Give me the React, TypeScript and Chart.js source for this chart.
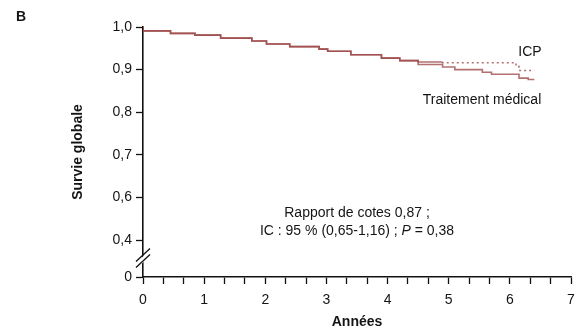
import React, { useEffect, useRef } from "react";
import { Chart, registerables } from "chart.js";

Chart.register(...registerables);

// ---- Data (Kaplan-Meier style steps) ----
const sharedTimes = [0, 0.45, 0.85, 1.27, 1.78, 2.02, 2.4, 2.88, 3.02, 3.4, 3.9, 4.2, 4.5];
const sharedSurv = [1.0, 0.991, 0.985, 0.981, 0.974, 0.967, 0.96, 0.954, 0.948, 0.943, 0.935, 0.927, 0.921];

const medicalTimes = [4.9, 5.1, 5.55, 5.7, 6.15, 6.3, 6.4];
const medicalSurv = [0.912, 0.906, 0.9, 0.894, 0.889, 0.88, 0.877];

const icpTimes = [4.9, 6.1, 6.15, 6.25, 6.4];
const icpSurv = [0.918, 0.916, 0.907, 0.898, 0.898];

// ---- Axis ticks ----
const xMajorLabels = ["0", "1", "2", "3", "4", "5", "6", "7"];
const xMinorPerYear = 3;
const yTickValues = [0.4135, 0.5, 0.6, 0.7, 0.8, 0.9, 1.0];
const yTickLabels = ["0", "0,4", "0,6", "0,7", "0,8", "0,9", "1,0"];

const FONT = '"Liberation Sans", Arial, sans-serif';
const TEXT = "#141414";
const LINE = "rgba(158,72,72,0.78)";

function toPoints(t: number[], s: number[]) {
  return t.map((x, i) => ({ x, y: s[i] }));
}

const annotations = {
  id: "annotations",
  afterDraw(chart: any) {
    const ctx = chart.ctx as CanvasRenderingContext2D;
    const y = chart.scales.y;
    const x = chart.scales.x;
    ctx.save();
    // axis break
    const ax = x.left;
    const yb = (y.getPixelForValue(0.5) + y.bottom) / 2 - 1;
    ctx.fillStyle = "#ffffff";
    ctx.beginPath();
    ctx.moveTo(ax - 7, yb + 6);
    ctx.lineTo(ax + 6, yb - 7);
    ctx.lineTo(ax + 6, yb - 1);
    ctx.lineTo(ax - 7, yb + 12);
    ctx.closePath();
    ctx.fill();
    ctx.strokeStyle = "#111";
    ctx.lineWidth = 1.3;
    ctx.beginPath();
    ctx.moveTo(ax - 7, yb + 4);
    ctx.lineTo(ax + 7, yb - 9);
    ctx.moveTo(ax - 7, yb + 10);
    ctx.lineTo(ax + 7, yb - 3);
    ctx.stroke();

    ctx.fillStyle = TEXT;
    ctx.textBaseline = "middle";
    // panel letter
    ctx.font = `bold 14px ${FONT}`;
    ctx.textAlign = "left";
    ctx.fillText("B", 16, 17);
    // axis titles
    ctx.textAlign = "center";
    ctx.fillText("Années", 357, 322);
    ctx.save();
    ctx.translate(78, 152);
    ctx.rotate(-Math.PI / 2);
    ctx.fillText("Survie globale", 0, 0);
    ctx.restore();
    // series labels
    ctx.font = `14px ${FONT}`;
    ctx.fillText("ICP", 530, 52);
    ctx.fillText("Traitement médical", 482, 100);
    // stats text
    ctx.fillText("Rapport de cotes 0,87 ;", 357, 213);
    const parts = [
      { t: "IC : 95 % (0,65-1,16) ; ", it: false },
      { t: "P", it: true },
      { t: " = 0,38", it: false },
    ];
    let total = 0;
    parts.forEach((p) => {
      ctx.font = `${p.it ? "italic " : ""}14px ${FONT}`;
      total += ctx.measureText(p.t).width;
    });
    let cx = 357 - total / 2;
    ctx.textAlign = "left";
    parts.forEach((p) => {
      ctx.font = `${p.it ? "italic " : ""}14px ${FONT}`;
      ctx.fillText(p.t, cx, 231);
      cx += ctx.measureText(p.t).width;
    });
    ctx.restore();
  },
};

export default function App() {
  const ref = useRef<HTMLCanvasElement | null>(null);
  useEffect(() => {
    if (!ref.current) return;
    const lastShared = sharedTimes.length - 1;
    const medical = toPoints(sharedTimes, sharedSurv).concat(toPoints(medicalTimes, medicalSurv));
    const icp = toPoints(sharedTimes, sharedSurv).concat(toPoints(icpTimes, icpSurv));
    const xTicks: { value: number }[] = [];
    for (let i = 0; i <= (xMajorLabels.length - 1) * xMinorPerYear; i++) xTicks.push({ value: i / xMinorPerYear });

    const chart = new Chart(ref.current, {
      type: "line",
      data: {
        datasets: [
          {
            label: "Traitement médical",
            data: medical,
            borderColor: LINE,
            borderWidth: 1.6,
            pointRadius: 0,
            stepped: "after",
          },
          {
            label: "ICP",
            data: icp,
            borderColor: LINE,
            borderWidth: 1.6,
            pointRadius: 0,
            stepped: "after",
            segment: {
              borderDash: (c: any) => (c.p0DataIndex >= lastShared + 1 ? [2, 3] : undefined),
            },
          },
        ],
      },
      options: {
        animation: false,
        responsive: false,
        events: [],
        layout: { padding: { top: 27, right: 9, bottom: 0, left: 0 } },
        plugins: { legend: { display: false }, tooltip: { enabled: false } },
        scales: {
          x: {
            type: "linear",
            min: 0,
            max: 7,
            afterBuildTicks: (s: any) => {
              s.ticks = xTicks.map((t) => ({ ...t }));
            },
            afterFit: (s: any) => {
              s.height = 56;
              s.paddingLeft = 0;
              s.paddingRight = 0;
            },
            ticks: {
              autoSkip: false,
              maxRotation: 0,
              padding: 8,
              color: TEXT,
              font: { family: FONT, size: 14 },
              callback: (v: any) => {
                const n = Number(v);
                const r = Math.round(n);
                return Math.abs(n - r) < 1e-6 ? xMajorLabels[r] : "";
              },
            },
            grid: { drawOnChartArea: false, drawTicks: true, tickLength: 7, color: "#111", tickWidth: 1.3 },
            border: { display: true, color: "#111", width: 1.6 },
          },
          y: {
            type: "linear",
            min: yTickValues[0],
            max: 1.0,
            afterBuildTicks: (s: any) => {
              s.ticks = yTickValues.map((v) => ({ value: v }));
            },
            afterFit: (s: any) => {
              s.width = 143;
              s.paddingTop = 0;
              s.paddingBottom = 0;
            },
            ticks: {
              autoSkip: false,
              padding: 4,
              color: TEXT,
              font: { family: FONT, size: 14 },
              callback: (_v: any, i: number) => yTickLabels[i],
            },
            grid: { drawOnChartArea: false, drawTicks: true, tickLength: 7, color: "#111", tickWidth: 1.3 },
            border: { display: true, color: "#111", width: 1.6 },
          },
        },
      },
      plugins: [annotations],
    });
    return () => chart.destroy();
  }, []);

  return (
    <div style={{ position: "fixed", left: 0, top: 0, width: 580, height: 333, background: "#fff" }}>
      <canvas ref={ref} width={580} height={333} style={{ width: 580, height: 333 }} />
    </div>
  );
}
